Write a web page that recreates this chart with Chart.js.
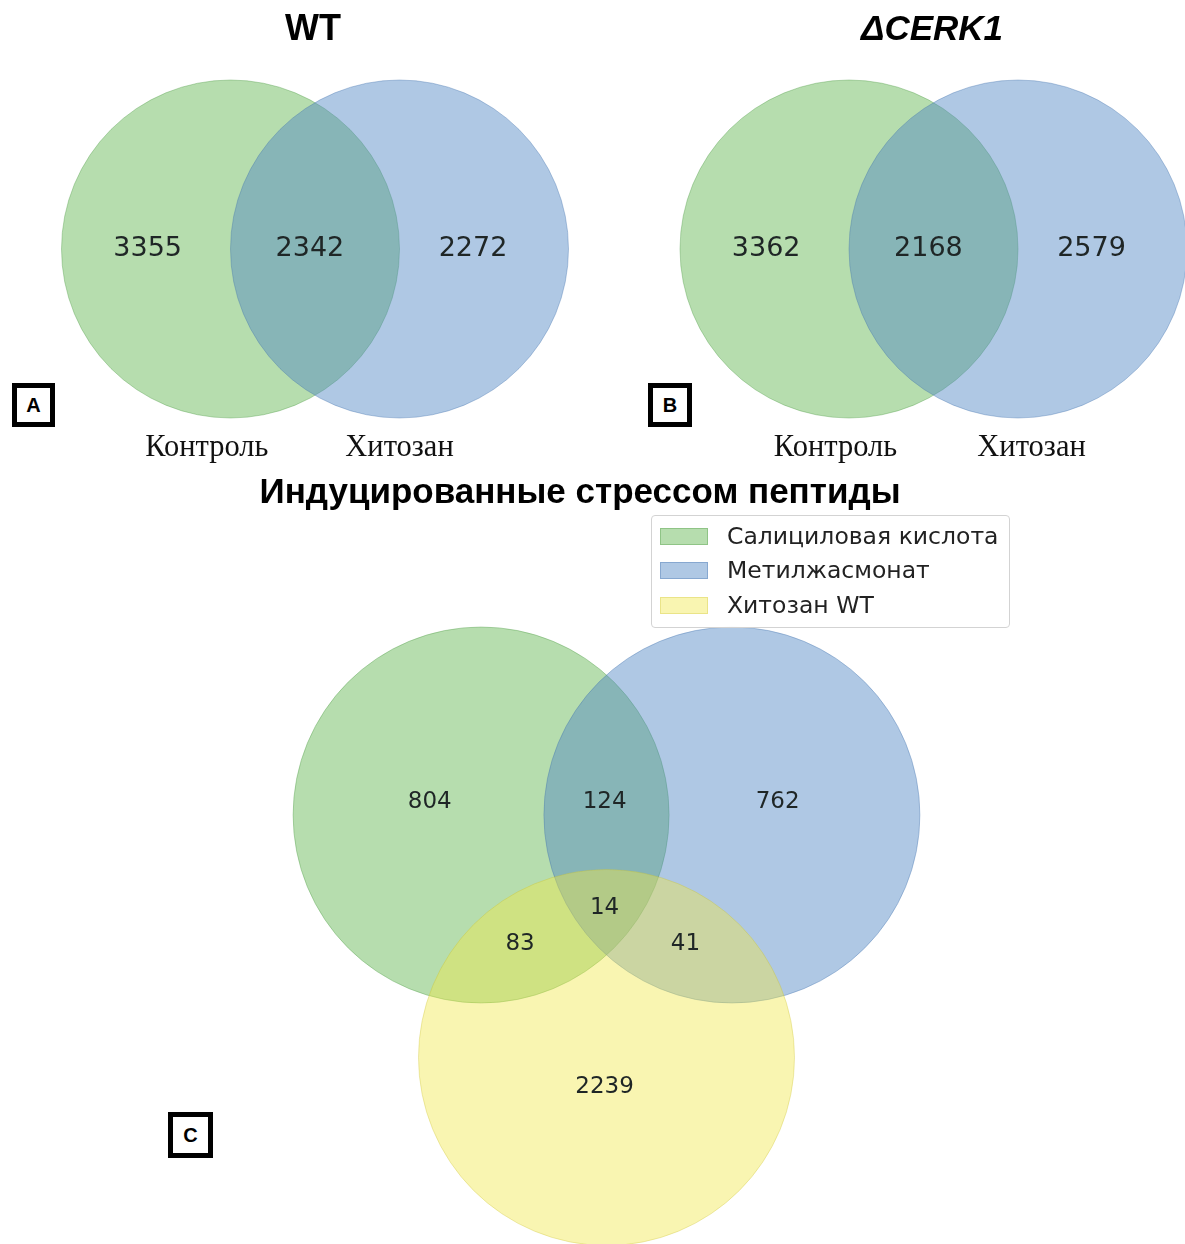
<!DOCTYPE html>
<html lang="ru">
<head>
<meta charset="utf-8">
<title>Пептиды</title>
<script src="https://cdn.jsdelivr.net/npm/chart.js@4.4.1/dist/chart.umd.min.js"></script>
<style>
    html, body { margin: 0; padding: 0; background: #fff; overflow: hidden; }
    body { position: relative; width: 1185px; height: 1244px; }
    canvas { position: absolute; }
    .tag {
        position: absolute; box-sizing: border-box; border: 5px solid #000;
        display: flex; align-items: center; justify-content: center;
        font: bold 20px 'Liberation Sans', Arial, sans-serif; color: #000; background: #fff;
    }
    #legend {
        position: absolute; left: 651px; top: 515px; width: 359px; height: 113px;
        box-sizing: border-box; border: 1px solid #d3d3d3; border-radius: 4px;
        background: rgba(255,255,255,0.85);
        font: 23.5px 'DejaVu Sans', sans-serif; color: #222;
    }
    #legend .row { position: absolute; left: 8px; height: 22px; display: flex; align-items: center; }
    #legend .patch { width: 48px; height: 17px; box-sizing: border-box; margin-right: 19px; }
</style>
</head>
<body>
<canvas id="wtChart" width="626" height="470" style="left:0;top:0"></canvas>
<canvas id="cerkChart" width="564" height="470" style="left:650px;top:0"></canvas>
<canvas id="stressChart" width="1160" height="774" style="left:0;top:470px"></canvas>
<div class="tag" style="left:12px;top:383px;width:43px;height:44px">A</div>
<div class="tag" style="left:648px;top:383px;width:44px;height:44px">B</div>
<div class="tag" style="left:168px;top:1112px;width:45px;height:46px">C</div>
<div id="legend"></div>

<script>
// counts per region: [only first, both, only second]
const wtSets = ['Контроль', 'Хитозан'];
const wtCounts = [3355, 2342, 2272];
const cerkSets = ['Контроль', 'Хитозан'];
const cerkCounts = [3362, 2168, 2579];

// three-way: [SA only, SA+MeJA, MeJA only, all three, SA+chitosan, MeJA+chitosan, chitosan only]
const stressSets = ['Салициловая кислота', 'Метилжасмонат', 'Хитозан WT'];
const stressCounts = [804, 124, 762, 14, 83, 41, 2239];

const setColors = ['rgba(93,179,75,0.45)', 'rgba(77,133,195,0.45)', 'rgba(240,232,70,0.42)'];
const edgeColors = ['rgba(70,150,60,0.35)', 'rgba(60,110,170,0.35)', 'rgba(200,190,40,0.3)'];

// circle layout in radius units
const twoCircles = [[-0.5, 0], [0.5, 0]];
const twoCountAt = [[-0.99, 0], [-0.03, 0], [0.935, 0]];
const threeCircles = [[-0.667, 0], [0.667, 0], [0, -1.29]];
const threeCountAt = [[-0.94, 0.07], [-0.01, 0.07], [0.91, 0.07], [-0.01, -0.495], [-0.46, -0.685], [0.42, -0.685], [-0.01, -1.445]];

// axis ranges so that one unit = ppu pixels and the origin lands on (ox, oy)
function axisRange(w, h, top, ox, oy, ppu) {
    return {
        x: { type: 'linear', display: false, min: -ox / ppu, max: (w - ox) / ppu },
        y: { type: 'linear', display: false, min: -(h - oy) / ppu, max: (oy - top) / ppu }
    };
}

function unitRadius(ctx) {
    const s = ctx.chart.scales.x;
    return s.getPixelForValue(1) - s.getPixelForValue(0);
}

const vennText = {
    id: 'vennText',
    afterDatasetsDraw(chart, args, opts) {
        const { ctx, scales: { x, y } } = chart;
        ctx.save();
        ctx.textAlign = 'center';
        ctx.textBaseline = 'middle';
        ctx.fillStyle = '#1f2626';
        ctx.font = opts.countFont;
        opts.counts.forEach((v, i) => {
            const p = opts.countAt[i];
            ctx.fillText(String(v), x.getPixelForValue(p[0]), y.getPixelForValue(p[1]));
        });
        if (opts.names) {
            ctx.fillStyle = '#111';
            ctx.font = opts.nameFont;
            opts.names.forEach((n, i) => {
                const p = opts.nameAt[i];
                ctx.fillText(n, x.getPixelForValue(p[0]), y.getPixelForValue(p[1]));
            });
        }
        ctx.restore();
    }
};

function circleSets(labels, centers) {
    return labels.map((label, i) => ({
        label: label,
        data: [{ x: centers[i][0], y: centers[i][1] }],
        backgroundColor: setColors[i],
        borderColor: edgeColors[i],
        borderWidth: 1,
        pointRadius: unitRadius,
        order: labels.length - i,
        clip: false
    }));
}

function makeVenn(id, opts) {
    return new Chart(document.getElementById(id), {
        type: 'scatter',
        data: { datasets: circleSets(opts.sets, opts.circles) },
        options: {
            responsive: false,
            animation: false,
            events: [],
            layout: { padding: 0 },
            scales: opts.scales,
            plugins: {
                legend: { display: false },
                tooltip: { enabled: false },
                title: {
                    display: true,
                    text: opts.title,
                    color: '#000',
                    padding: 0,
                    font: {
                        family: "'Liberation Sans', Arial, sans-serif",
                        size: opts.titleSize,
                        weight: 'bold',
                        style: opts.titleStyle || 'normal',
                        lineHeight: opts.titleBlock + 'px'
                    }
                },
                vennText: {
                    counts: opts.counts,
                    countAt: opts.countAt,
                    countFont: opts.countFont,
                    names: opts.names,
                    nameAt: opts.nameAt,
                    nameFont: "30.5px 'Liberation Serif', 'Times New Roman', serif"
                }
            }
        },
        plugins: [vennText]
    });
}

makeVenn('wtChart', {
    title: 'WT', titleSize: 36, titleBlock: 60,
    sets: wtSets, circles: twoCircles,
    scales: axisRange(626, 470, 60, 315, 249, 169),
    counts: wtCounts, countAt: twoCountAt,
    countFont: "27px 'DejaVu Sans', sans-serif",
    names: wtSets, nameAt: [[-0.64, -1.18], [0.5, -1.18]]
});

makeVenn('cerkChart', {
    title: 'ΔCERK1', titleSize: 35, titleBlock: 60, titleStyle: 'italic',
    sets: cerkSets, circles: twoCircles,
    scales: axisRange(564, 470, 60, 283.5, 249, 169),
    counts: cerkCounts, countAt: twoCountAt,
    countFont: "27px 'DejaVu Sans', sans-serif",
    names: cerkSets, nameAt: [[-0.58, -1.18], [0.58, -1.18]]
});

makeVenn('stressChart', {
    title: 'Индуцированные стрессом пептиды', titleSize: 35, titleBlock: 46,
    sets: stressSets, circles: threeCircles,
    scales: axisRange(1160, 774, 46, 606.5, 345, 188),
    counts: stressCounts, countAt: threeCountAt,
    countFont: "23px 'DejaVu Sans', sans-serif"
});

// legend box for the three-way diagram
const legendEl = document.getElementById('legend');
const rowTops = [9, 43, 78];
stressSets.forEach((name, i) => {
    const row = document.createElement('div');
    row.className = 'row';
    row.style.top = rowTops[i] + 'px';
    row.innerHTML = `<span class="patch" style="background:${setColors[i]};border:1px solid ${edgeColors[i]}"></span><span>${name}</span>`;
    legendEl.appendChild(row);
});
</script>
</body>
</html>
